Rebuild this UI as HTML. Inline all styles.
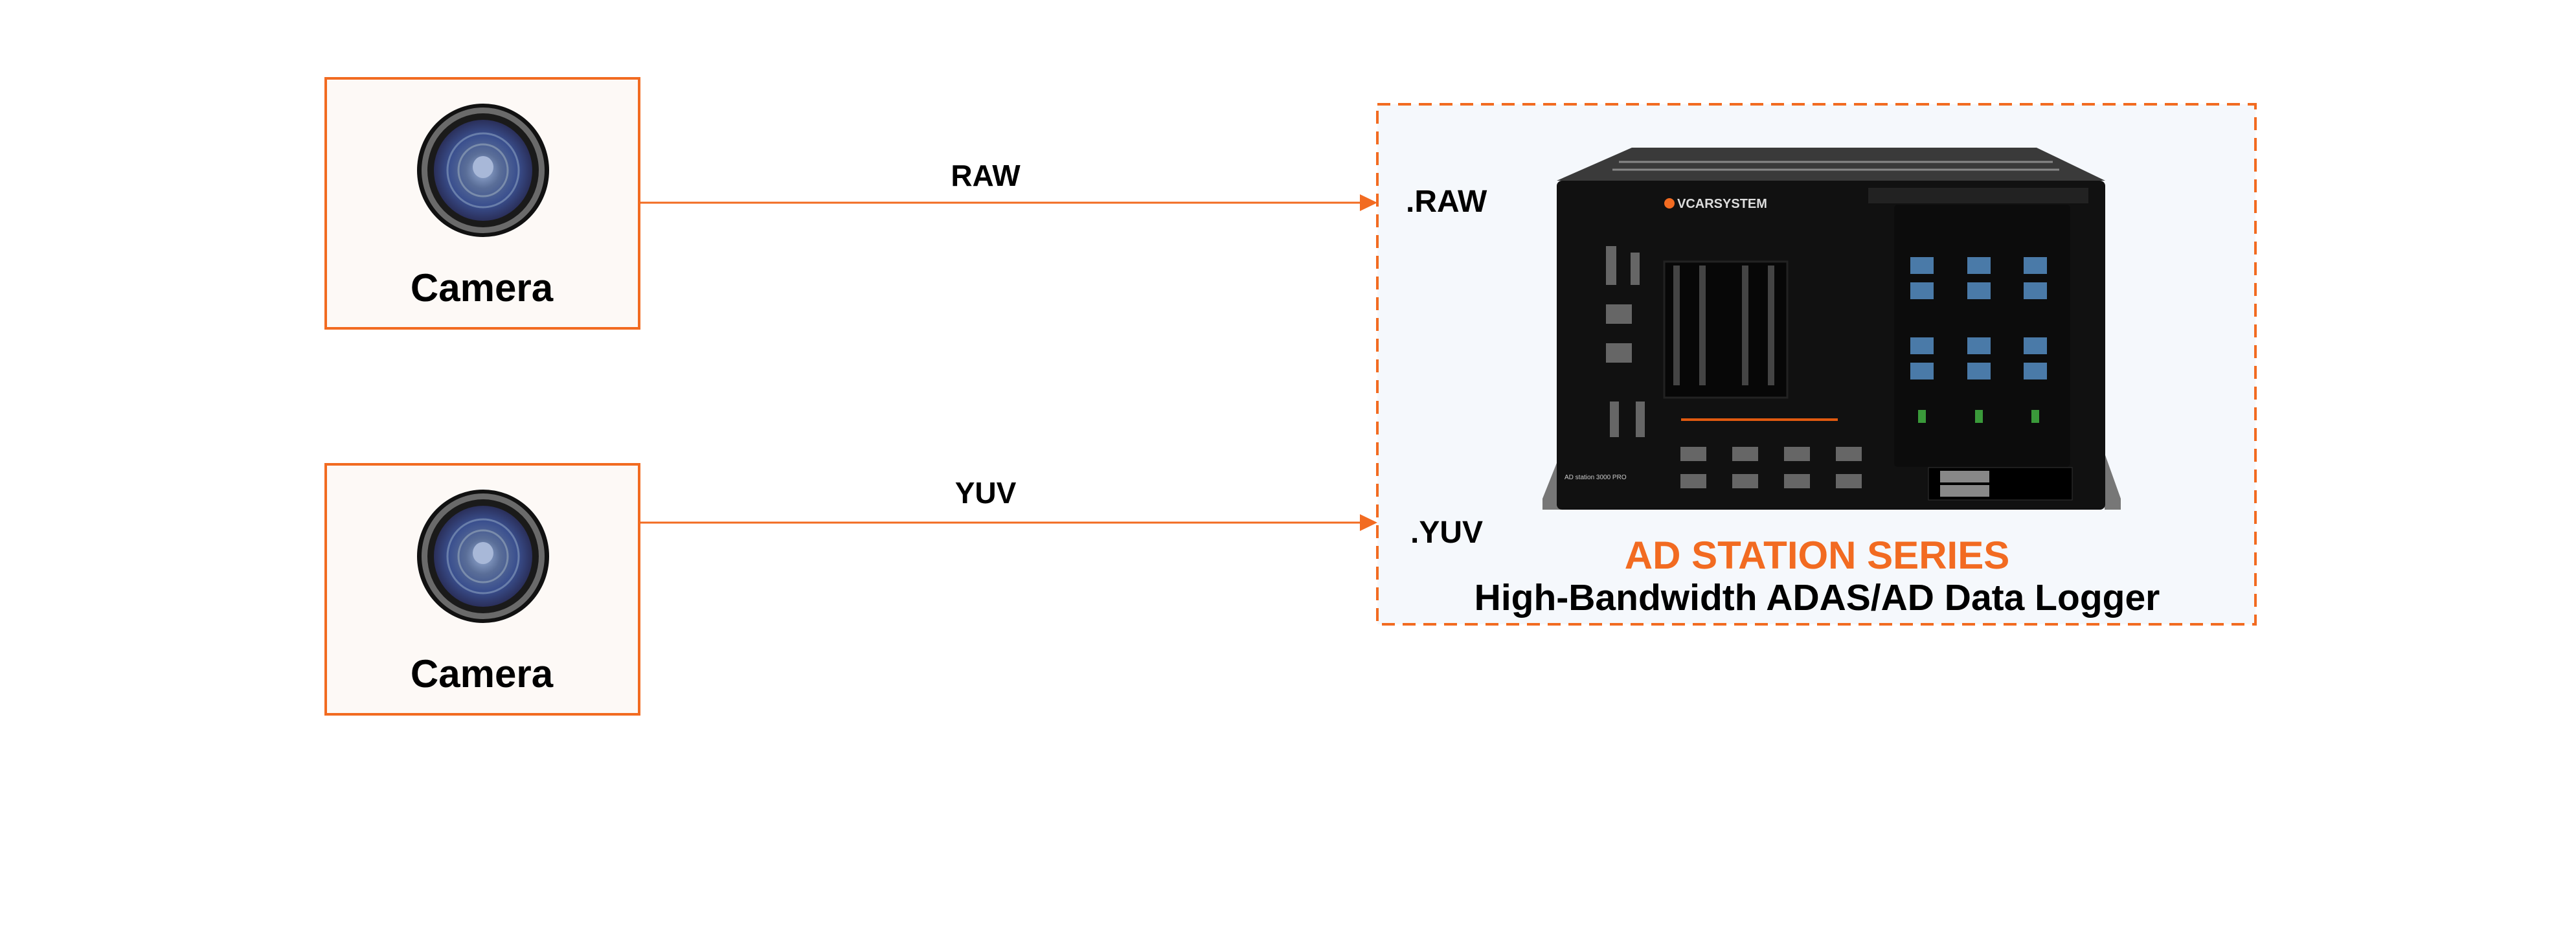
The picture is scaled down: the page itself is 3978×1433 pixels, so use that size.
<!DOCTYPE html>
<html><head><meta charset="utf-8"><style>
html,body{margin:0;padding:0;background:#fff;}
body{width:3978px;height:1433px;position:relative;overflow:hidden;font-family:"Liberation Sans",sans-serif;}
</style></head><body>
<svg width="3978" height="1433" viewBox="0 0 3978 1433" xmlns="http://www.w3.org/2000/svg" style="position:absolute;left:0;top:0">
<defs>
<radialGradient id="lens" cx="50%" cy="50%" r="50%">
<stop offset="0" stop-color="#9ab0d8"/><stop offset="0.35" stop-color="#5a6e98"/><stop offset="0.7" stop-color="#3a4f8e"/><stop offset="1" stop-color="#2a2f5a"/>
</radialGradient>
<g id="cam">
<ellipse cx="0" cy="0" rx="102" ry="103" fill="#111"/>
<ellipse cx="0" cy="0" rx="95" ry="97" fill="#6a6a6a"/>
<ellipse cx="0" cy="0" rx="86" ry="88" fill="#1a1a1a"/>
<ellipse cx="0" cy="0" rx="76" ry="78" fill="url(#lens)"/>
<ellipse cx="0" cy="0" rx="55" ry="57" fill="none" stroke="#8aa0c0" stroke-width="3" opacity="0.6"/>
<ellipse cx="0" cy="0" rx="38" ry="40" fill="none" stroke="#9ab" stroke-width="3" opacity="0.6"/>
<ellipse cx="0" cy="-5" rx="16" ry="17" fill="#a8b8d8"/>
</g>
</defs>
<rect x="503" y="121" width="484" height="386" fill="#fdf9f6" stroke="#f26b21" stroke-width="4"/>
<use href="#cam" x="746" y="263"/>
<text x="744" y="465" font-size="60" font-weight="bold" text-anchor="middle" fill="#000">Camera</text>
<rect x="503" y="717" width="484" height="386" fill="#fdf9f6" stroke="#f26b21" stroke-width="4"/>
<use href="#cam" x="746" y="859"/>
<text x="744" y="1061" font-size="60" font-weight="bold" text-anchor="middle" fill="#000">Camera</text>
<rect x="2127" y="161" width="1356" height="803" fill="#f5f8fc" stroke="#f26b21" stroke-width="4" stroke-dasharray="20,12"/>
<line x1="987" y1="313" x2="2104" y2="313" stroke="#f26b21" stroke-width="3"/>
<polygon points="2127,313 2100,300 2100,326" fill="#f26b21"/>
<line x1="987" y1="807" x2="2104" y2="807" stroke="#f26b21" stroke-width="3"/>
<polygon points="2127,807 2100,794 2100,820" fill="#f26b21"/>
<text x="1522" y="287" font-size="46" font-weight="bold" text-anchor="middle">RAW</text>
<text x="1522" y="777" font-size="46" font-weight="bold" text-anchor="middle">YUV</text>
<text x="2171" y="327" font-size="48" font-weight="bold">.RAW</text>
<text x="2178" y="838" font-size="48" font-weight="bold">.YUV</text>
<polygon points="2404,279 2520,228 3145,228 3251,279" fill="#3a3a3a"/>
<g stroke="#888" stroke-width="3">
<line x1="2500" y1="250" x2="3170" y2="250"/><line x1="2490" y1="262" x2="3180" y2="262"/>
</g>
<polygon points="2382,770 2410,700 2410,787 2382,787" fill="#777"/>
<polygon points="3275,770 3250,700 3250,787 3275,787" fill="#777"/>
<rect x="2404" y="279" width="847" height="508" rx="8" fill="#111"/>
<rect x="2885" y="290" width="340" height="24" fill="#222"/>
<text x="2590" y="321" font-size="20" fill="#ddd" font-weight="bold">VCARSYSTEM</text>
<circle cx="2578" cy="314" r="8" fill="#f26b21"/>
<rect x="2570" y="404" width="190" height="210" fill="#070707" stroke="#222" stroke-width="3"/>
<g fill="#444">
<rect x="2584" y="410" width="10" height="185"/><rect x="2624" y="410" width="10" height="185"/>
<rect x="2690" y="410" width="10" height="185"/><rect x="2730" y="410" width="10" height="185"/>
</g>
<line x1="2596" y1="648" x2="2838" y2="648" stroke="#e05a10" stroke-width="4"/>
<rect x="2925" y="316" width="272" height="405" rx="6" fill="#0c0c0c"/>
<g fill="#4a7aa8">
<rect x="2950" y="397" width="36" height="26"/><rect x="3038" y="397" width="36" height="26"/><rect x="3125" y="397" width="36" height="26"/>
<rect x="2950" y="436" width="36" height="26"/><rect x="3038" y="436" width="36" height="26"/><rect x="3125" y="436" width="36" height="26"/>
<rect x="2950" y="521" width="36" height="26"/><rect x="3038" y="521" width="36" height="26"/><rect x="3125" y="521" width="36" height="26"/>
<rect x="2950" y="560" width="36" height="26"/><rect x="3038" y="560" width="36" height="26"/><rect x="3125" y="560" width="36" height="26"/>
</g>
<g fill="#3a9a3a">
<rect x="2962" y="633" width="12" height="20"/><rect x="3050" y="633" width="12" height="20"/><rect x="3137" y="633" width="12" height="20"/>
</g>
<g fill="#666">
<rect x="2595" y="690" width="40" height="22"/><rect x="2675" y="690" width="40" height="22"/><rect x="2755" y="690" width="40" height="22"/><rect x="2835" y="690" width="40" height="22"/>
<rect x="2595" y="732" width="40" height="22"/><rect x="2675" y="732" width="40" height="22"/><rect x="2755" y="732" width="40" height="22"/><rect x="2835" y="732" width="40" height="22"/>
<rect x="2480" y="380" width="16" height="60"/><rect x="2518" y="390" width="14" height="50"/>
<rect x="2480" y="470" width="40" height="30"/><rect x="2480" y="530" width="40" height="30"/>
<rect x="2486" y="620" width="14" height="55"/><rect x="2526" y="620" width="14" height="55"/>
</g>
<rect x="2978" y="722" width="222" height="50" fill="#000" stroke="#333"/>
<rect x="2996" y="727" width="76" height="18" fill="#888"/><rect x="2996" y="749" width="76" height="18" fill="#888"/>
<text x="2416" y="740" font-size="10" fill="#ccc">AD station 3000 PRO</text>
<text x="2806" y="878" font-size="60" font-weight="bold" text-anchor="middle" fill="#f26b21">AD STATION SERIES</text>
<text x="2806" y="942" font-size="57" font-weight="bold" text-anchor="middle" fill="#000">High-Bandwidth ADAS/AD Data Logger</text>
</svg>
</body></html>
